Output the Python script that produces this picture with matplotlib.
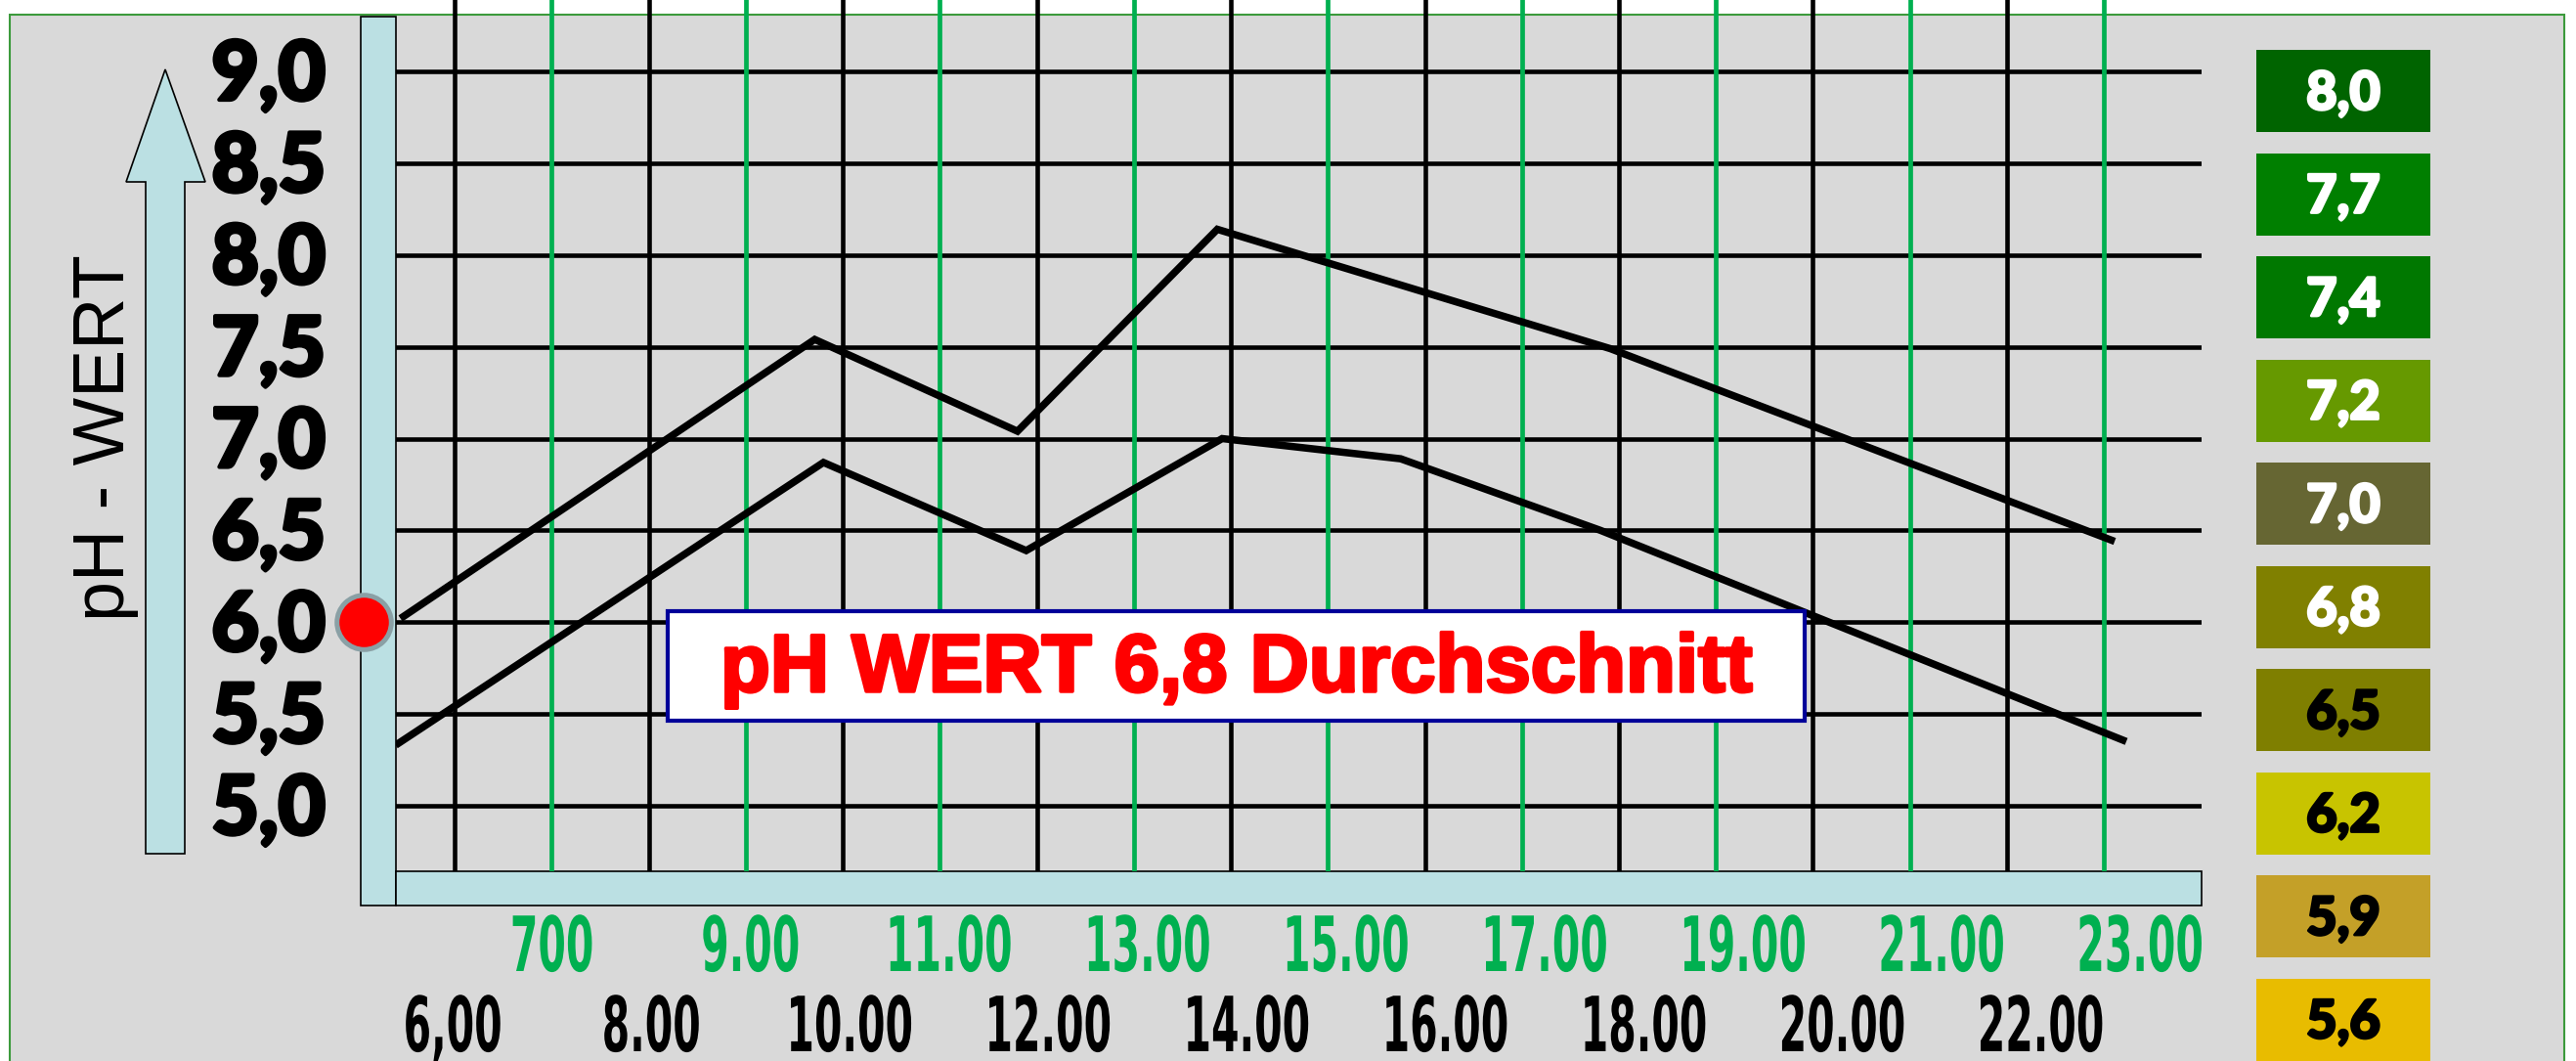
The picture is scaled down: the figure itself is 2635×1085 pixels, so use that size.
import matplotlib
matplotlib.use("Agg")
import matplotlib.pyplot as plt
import matplotlib.transforms as mtransforms
import matplotlib.patheffects as pe
from matplotlib.patches import Rectangle, Polygon
from matplotlib.patheffects import AbstractPathEffect

W, H = 2635, 1085

# --- data ---
upper_hours = [5.44, 9.71, 11.80, 13.86, 17.91, 23.11]
upper_ph = [6.02, 7.54, 7.04, 8.14, 7.49, 6.44]

lower_hours = [5.39, 9.80, 11.89, 13.91, 15.75, 17.81, 23.23]
lower_ph = [5.33, 6.87, 6.39, 7.00, 6.89, 6.50, 5.35]

ph_ticks = [5.0, 5.5, 6.0, 6.5, 7.0, 7.5, 8.0, 8.5, 9.0]
ph_labels = ["5,0", "5,5", "6,0", "6,5", "7,0", "7,5", "8,0", "8,5", "9,0"]

even_hours = [6, 8, 10, 12, 14, 16, 18, 20, 22]
even_labels = ["6,00", "8.00", "10.00", "12.00", "14.00", "16.00", "18.00", "20.00", "22.00"]
odd_hours = [7, 9, 11, 13, 15, 17, 19, 21, 23]
odd_labels = ["700", "9.00", "11.00", "13.00", "15.00", "17.00", "19.00", "21.00", "23.00"]

scale_values = ["8,0", "7,7", "7,4", "7,2", "7,0", "6,8", "6,5", "6,2", "5,9", "5,6"]
scale_colors = ["#006400", "#007f00", "#007800", "#669900", "#666633",
                "#808000", "#7f7f00", "#c8c400", "#c4a028", "#e8bc00"]
scale_text = ["white"] * 6 + ["black"] * 4

marker_ph = 6.0
avg_text = "pH WERT 6,8 Durchschnitt"

BLUE = "#bbe0e3"
GREEN = "#00b050"
HEAVY = ["Lato", "DejaVu Sans"]


class Stretch(AbstractPathEffect):
    # stretch glyphs upward from the baseline (tall, condensed look)
    def __init__(self, sy):
        super().__init__()
        self.sy = sy

    def draw_path(self, renderer, gc, tpath, affine, rgbFace=None):
        st = mtransforms.Affine2D().scale(1, self.sy)
        renderer.draw_path(gc, tpath, st + affine, rgbFace)


def heavy(color, lw=2.5):
    return [pe.withStroke(linewidth=lw, foreground=color)]


fig = plt.figure(figsize=(W / 100, H / 100), dpi=100, facecolor="white")

# pixel-space layer for the decorations
bg = fig.add_axes([0, 0, 1, 1])
bg.set_xlim(0, W)
bg.set_ylim(H, 0)
bg.axis("off")

bg.add_patch(Rectangle((10, 15), 2613, 1100, fc="#d9d9d9", ec="#3c9a3c", lw=1.5))
bg.add_patch(Rectangle((369, 17), 36, 909, fc=BLUE, ec="black", lw=1.2))
bg.add_patch(Rectangle((405, 891), 1847, 35, fc=BLUE, ec="black", lw=1.2))
bg.add_patch(Polygon([(149, 873), (149, 186), (129, 186), (169, 71), (210, 186),
                      (189, 186), (189, 873)], closed=True, fc=BLUE, ec="black", lw=1.2))
bg.text(107, 448, "pH - WERT", rotation=90, ha="center", va="center",
        fontsize=53, family=["Liberation Sans", "DejaVu Sans"])

# colour scale on the right
for i, (val, col, tcol) in enumerate(zip(scale_values, scale_colors, scale_text)):
    top = 51 + i * 105.5
    bg.add_patch(Rectangle((2308, top), 178, 84, fc=col, ec="none"))
    bg.text(2397, top + 42 + 19, val, ha="center", va="baseline", color=tcol,
            fontsize=39, weight="black", family=HEAVY, path_effects=heavy(tcol, 2))

# --- main plot ---
ax = fig.add_axes([405 / W, 1 - 891 / H, 1847 / W, 891 / H])
ax.set_xlim(5.393, 24.006)
ax.set_ylim(4.643, 9.389)
ax.axis("off")

for v in ph_ticks:
    ax.axhline(v, color="black", lw=3.3, zorder=1)
for h in even_hours:
    ax.axvline(h, color="black", lw=3.3, zorder=1)
for h in odd_hours:
    ax.axvline(h, color=GREEN, lw=3.4, zorder=1)

for xs, ys in [(upper_hours, upper_ph), (lower_hours, lower_ph)]:
    ax.plot(xs, ys, color="black", lw=5.4, solid_joinstyle="miter",
            solid_capstyle="butt", zorder=3)

# y labels: pixel x, data y
ty = mtransforms.blended_transform_factory(bg.transData, ax.transData)
ty_lab = mtransforms.offset_copy(ty, fig=fig, y=-29, units="dots")
for v, lab in zip(ph_ticks, ph_labels):
    ax.text(333, v, lab, transform=ty_lab, ha="right", va="baseline",
            fontsize=60, weight="black", family=HEAVY, clip_on=False,
            path_effects=heavy("black", 3))

ax.plot([372], [marker_ph], "o", transform=ty, ms=40, mfc="red", mec="#8aa0a5",
        mew=3.6, clip_on=False, zorder=5)

# x labels: data x, pixel y (labels drift a little right of their lines)
tx = mtransforms.blended_transform_factory(ax.transData, bg.transData)
xfont = dict(fontsize=29.5, weight="bold", family=["DejaVu Sans"],
             path_effects=[Stretch(1.9)], clip_on=False, ha="center", va="baseline")


def xlabel(h, y, lab, color):
    t = mtransforms.offset_copy(tx, fig=fig, x=-2 + 2.3 * (h - 6), units="dots")
    ax.text(h, y, lab, transform=t, color=color, **xfont)


for h, lab in zip(odd_hours, odd_labels):
    xlabel(h, 993, lab, GREEN)
for h, lab in zip(even_hours, even_labels):
    xlabel(h, 1075, lab, "black")

# average box
ax.add_patch(Rectangle((683, 625), 1163, 112, transform=bg.transData, fc="white",
                       ec="#000099", lw=3, clip_on=False, zorder=4))
ax.text(1265, 707, avg_text, transform=bg.transData, ha="center", va="baseline",
        color="red", fontsize=60, weight="bold",
        family=["Liberation Sans", "DejaVu Sans"], clip_on=False, zorder=6,
        path_effects=heavy("red", 2.5))

fig.savefig("out.png", dpi=100, facecolor="white")
